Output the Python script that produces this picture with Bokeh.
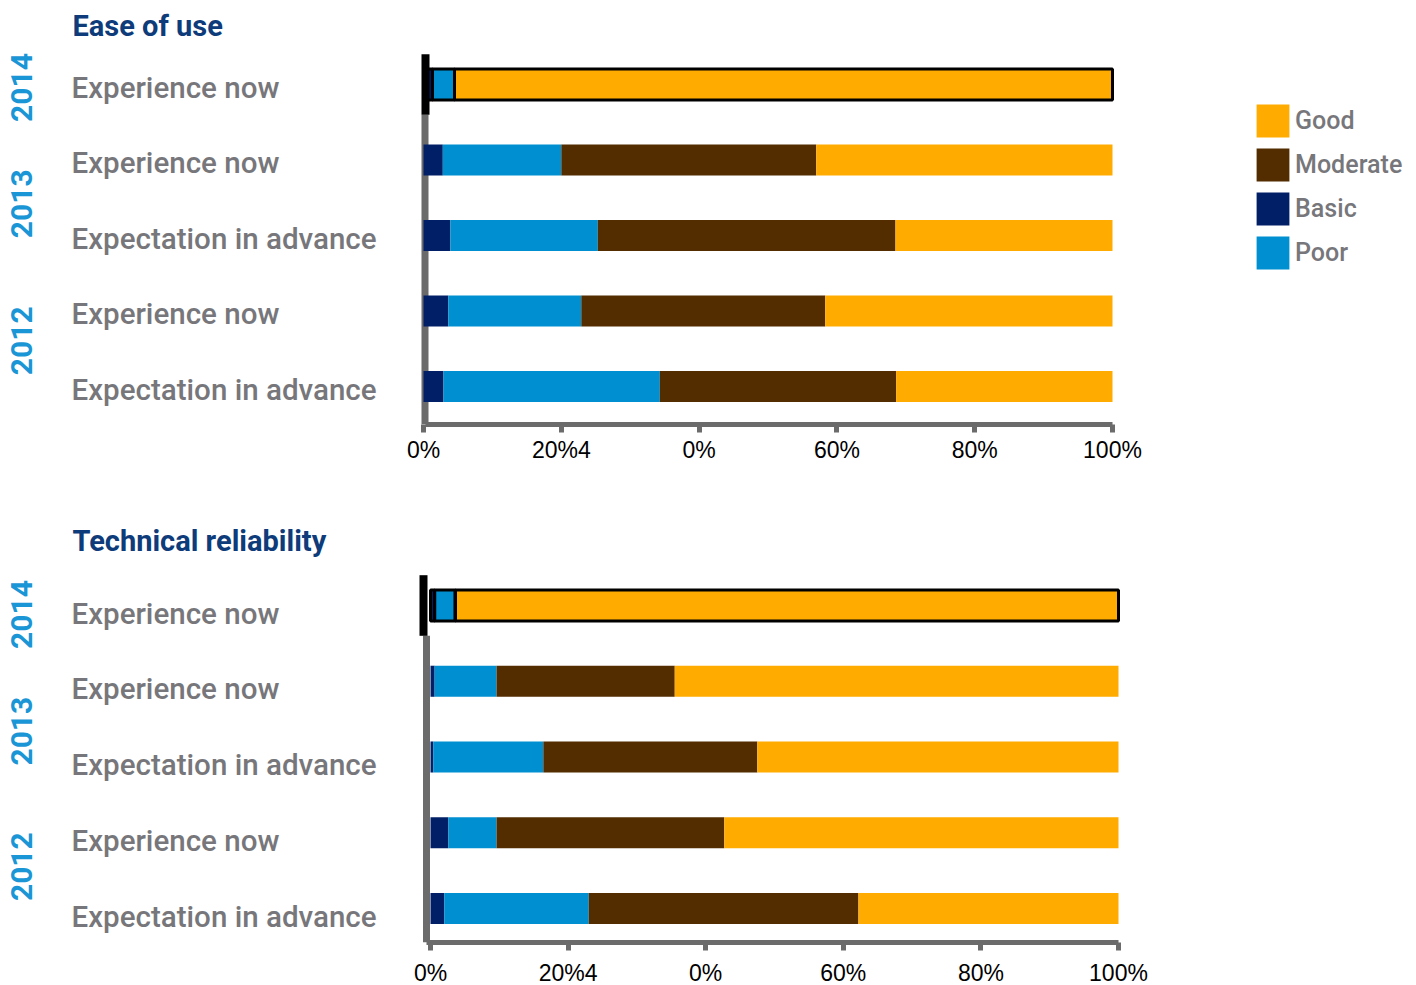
import numpy as np
from bokeh.plotting import figure
from bokeh.models import ColumnDataSource, Range1d, LinearAxis, FixedTicker, Legend, LegendItem
from bokeh.layouts import column
from bokeh.embed import file_html
from bokeh.resources import INLINE
from bokeh.core.properties import value

# Rows, listed top to bottom
row_years = ["2014", "2013", "2013", "2012", "2012"]
row_labels = ["Experience now", "Experience now", "Expectation in advance",
              "Experience now", "Expectation in advance"]
highlight = [True, False, False, False, False]

# Stacking order (left to right) and legend order (top to bottom)
series = ["Basic", "Poor", "Moderate", "Good"]
legend_order = ["Good", "Moderate", "Basic", "Poor"]
colors = {"Basic": "#001f66", "Poor": "#008fd0", "Moderate": "#532c00", "Good": "#ffab00"}

# Ease of use (% of respondents)
ease_basic = [1.3, 2.8, 3.9, 3.6, 2.9]
ease_poor = [3.2, 17.2, 21.4, 19.3, 31.4]
ease_moderate = [0.0, 37.0, 43.2, 35.4, 34.3]
ease_good = [95.5, 43.0, 31.5, 41.7, 31.4]

# Technical reliability (% of respondents)
tech_basic = [0.6, 0.6, 0.4, 2.6, 2.0]
tech_poor = [3.0, 9.0, 16.0, 7.0, 21.0]
tech_moderate = [0.0, 25.9, 31.1, 33.1, 39.2]
tech_good = [96.4, 64.5, 52.5, 57.3, 37.8]

tick_values = [0, 20, 40, 60, 80, 100]
tick_labels = ["0%", "20%4", "0%", "60%", "80%", "100%"]

W = 1416
LABEL_FONT = "Roboto Medium, Roboto"
GREY_TEXT = "#77777b"
AXIS_GREY = "#6b6b6b"


def make_panel(title, vals, frame_h, border_b, px0, px100, row0_px, row_step,
               label_dy, year_dy, title_px, tick_standoff, spine_dx, dark_dx, with_legend):
    n = len(row_labels)
    rows = [n - 1 - i for i in range(n)]
    scale = (px100 - px0) / 100.0
    x0 = -px0 / scale
    x1 = (W - px0) / scale
    y0 = -(frame_h - row0_px) / row_step
    y1 = row0_px / row_step
    sx = spine_dx / scale   # grey spine position, shifted a few pixels from zero
    dx = dark_dx / scale    # dark spine piece position

    p = figure(frame_width=W, frame_height=frame_h,
               x_range=Range1d(x0, x1), y_range=Range1d(y0, y1),
               x_axis_type=None, y_axis_type=None,
               output_backend="svg", toolbar_location=None,
               min_border=0, min_border_bottom=border_b,
               outline_line_color=None,
               background_fill_color="white", border_fill_color="white")

    hl_rows = [rows[i] for i in range(n) if highlight[i]]
    bar_h = 0.41      # bar thickness, in row units
    spine_half = 0.4  # half-length of the dark spine piece beside a highlighted row

    # vertical spine (grey), under the bars
    p.segment(x0=[sx], y0=[y0], x1=[sx], y1=[min(hl_rows) - spine_half],
              line_color=AXIS_GREY, line_width=7)

    renderers = {}
    lefts = np.zeros(n)
    bounds = []
    for name, v in zip(series, vals):
        v = np.array(v, dtype=float)
        src = ColumnDataSource(dict(y=rows, left=lefts, right=lefts + v))
        renderers[name] = p.hbar(y="y", left="left", right="right", height=bar_h,
                                 source=src, fill_color=colors[name], line_color=None)
        bounds.append((lefts.copy(), lefts + v))
        lefts = lefts + v

    # black outline around every segment of the highlighted row
    idx = [i for i in range(n) if highlight[i]]
    for lo, hi in bounds:
        src = ColumnDataSource(dict(y=[rows[i] for i in idx],
                                    left=[lo[i] for i in idx],
                                    right=[hi[i] for i in idx]))
        p.hbar(y="y", left="left", right="right", height=bar_h, source=src,
               fill_color=None, line_color="black", line_width=3)

    # black spine piece next to the highlighted row
    p.segment(x0=[dx] * len(hl_rows), y0=[r - spine_half for r in hl_rows],
              x1=[dx] * len(hl_rows), y1=[r + spine_half for r in hl_rows],
              line_color="black", line_width=8)

    # bottom axis
    ax = LinearAxis(bounds=(sx, 100), ticker=FixedTicker(ticks=tick_values),
                    major_label_overrides={v: t for v, t in zip(tick_values, tick_labels)},
                    axis_line_color=AXIS_GREY, axis_line_width=5,
                    major_tick_line_color=AXIS_GREY, major_tick_line_width=5,
                    major_tick_in=0, major_tick_out=8,
                    minor_tick_line_color=None,
                    major_label_text_font="Liberation Sans",
                    major_label_text_font_size="23px",
                    major_label_text_color="black",
                    major_label_standoff=tick_standoff)
    p.add_layout(ax, "below")

    # row labels
    p.text(x=x0, y=rows, text=row_labels, x_offset=71, y_offset=label_dy,
           text_font=value(LABEL_FONT), text_font_size="29.5px",
           text_color=GREY_TEXT, text_align="left", text_baseline="middle")

    # year labels, rotated
    years = list(dict.fromkeys(row_years))
    ypos = [float(np.mean([rows[i] for i in range(n) if row_years[i] == yr])) for yr in years]
    p.text(x=x0, y=ypos, text=years, x_offset=21, y_offset=year_dy, angle=np.pi / 2,
           text_font=value("Roboto"), text_font_style="bold", text_font_size="30px",
           text_color="#1a96d6", text_align="center", text_baseline="middle")

    # panel title
    p.text(x=x0, y=y1, text=[title], x_offset=72, y_offset=title_px,
           text_font=value("Roboto"), text_font_style="bold", text_font_size="29px",
           text_color="#0e3b7a", text_align="left", text_baseline="middle")

    if with_legend:
        legend = Legend(items=[LegendItem(label=nm, renderers=[renderers[nm]]) for nm in legend_order],
                        location=(1252, 151), glyph_width=41, glyph_height=41,
                        spacing=3, padding=0, margin=0, label_standoff=2,
                        border_line_color=None, background_fill_alpha=0,
                        label_text_font=LABEL_FONT, label_text_font_size="25px",
                        label_text_color=GREY_TEXT)
        p.add_layout(legend)
    return p


p1 = make_panel("Ease of use", [ease_basic, ease_poor, ease_moderate, ease_good],
                frame_h=424, border_b=66, px0=423, px100=1112, row0_px=386, row_step=75.5,
                label_dy=3, year_dy=[3, 6, -8], title_px=25, tick_standoff=4,
                spine_dx=1.5, dark_dx=2, with_legend=True)
p2 = make_panel("Technical reliability", [tech_basic, tech_poor, tech_moderate, tech_good],
                frame_h=452, border_b=43, px0=430, px100=1118, row0_px=418, row_step=75.75,
                label_dy=8, year_dy=[9, 12, -4], title_px=50, tick_standoff=9,
                spine_dx=-4, dark_dx=-7, with_legend=False)

layout = column(p1, p2, spacing=0)
open("out.html", "w").write(file_html(layout, INLINE))
